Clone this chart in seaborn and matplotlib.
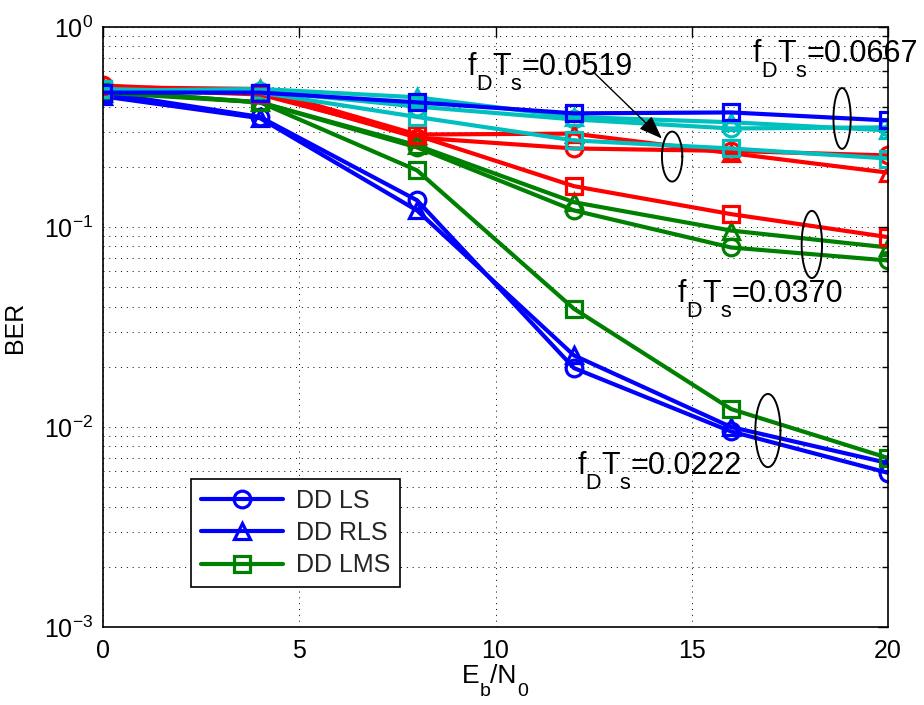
import numpy as np
import pandas as pd
import matplotlib
matplotlib.use("Agg")
import matplotlib.pyplot as plt
import seaborn as sns
from matplotlib.lines import Line2D

# ---------------- data ----------------
snr = [0, 4, 8, 12, 16, 20]

ls_0222 = [0.47, 0.355, 0.136, 0.0197, 0.0095, 0.0059]
rls_0222 = [0.45, 0.35, 0.121, 0.0228, 0.0100, 0.0066]
lms_0222 = [0.48, 0.42, 0.192, 0.039, 0.0123, 0.0070]

ls_0370 = [0.48, 0.42, 0.25, 0.121, 0.079, 0.068]
rls_0370 = [0.47, 0.42, 0.256, 0.133, 0.096, 0.079]
lms_0370 = [0.49, 0.46, 0.287, 0.16, 0.116, 0.089]

ls_0519 = [0.51, 0.47, 0.28, 0.247, 0.24, 0.228]
rls_0519 = [0.50, 0.49, 0.29, 0.293, 0.234, 0.187]
lms_0519 = [0.49, 0.47, 0.355, 0.271, 0.247, 0.22]

ls_0667 = [0.49, 0.48, 0.40, 0.345, 0.311, 0.315]
rls_0667 = [0.48, 0.49, 0.445, 0.355, 0.334, 0.304]
lms_0667 = [0.47, 0.47, 0.42, 0.37, 0.374, 0.341]

legend_labels = ["DD LS", "DD RLS", "DD LMS"]
doppler_labels = ["0.0222", "0.0370", "0.0519", "0.0667"]

# ---------------- style ----------------
sns.set_theme(style="white")
plt.rcParams["font.family"] = ["Liberation Sans", "DejaVu Sans"]
plt.rcParams["mathtext.fontset"] = "custom"
plt.rcParams["mathtext.rm"] = "Liberation Sans"
plt.rcParams["mathtext.it"] = "Liberation Sans"
plt.rcParams["mathtext.bf"] = "Liberation Sans:bold"

BLUE = (0, 0, 1)
GREEN = (0, 0.5, 0)
RED = (1, 0, 0)
CYAN = (0, 0.75, 0.75)

fig = plt.figure(figsize=(9.24, 7.05), dpi=100)
ax = fig.add_axes([103 / 924, 1 - 627 / 705, 785 / 924, 600 / 705])

series = [
    # LS
    (ls_0222, BLUE, "o"), (ls_0370, GREEN, "o"), (ls_0519, RED, "o"), (ls_0667, CYAN, "o"),
    # RLS
    (rls_0222, BLUE, "^"), (rls_0370, GREEN, "^"), (rls_0519, RED, "^"), (rls_0667, CYAN, "^"),
    # LMS
    (lms_0222, GREEN, "s"), (lms_0370, RED, "s"), (lms_0519, CYAN, "s"), (lms_0667, BLUE, "s"),
]

for vals, col, mk in series:
    df = pd.DataFrame({"snr": snr, "ber": vals})
    sns.lineplot(data=df, x="snr", y="ber", ax=ax, color=col, marker=mk,
                 markersize=12, markerfacecolor="none", markeredgecolor=col,
                 markeredgewidth=2.3, linewidth=3.0, legend=False)

ax.set_yscale("log")
ax.set_xlim(0, 20)
ax.set_ylim(1e-3, 1)
ax.set_xticks([0, 5, 10, 15, 20])

# grid (MATLAB dotted)
ax.grid(True, which="major", axis="both", color="black", linestyle=(0, (1, 5)), linewidth=0.7)
ax.grid(True, which="minor", axis="y", color="black", linestyle=(0, (1, 5)), linewidth=0.7)
ax.set_axisbelow(True)

for s in ax.spines.values():
    s.set_color("black")
    s.set_linewidth(1.2)
ax.tick_params(which="both", direction="in", top=True, right=True, colors="black",
               labelsize=18, width=1)
ax.tick_params(which="major", length=7)
ax.tick_params(which="minor", length=4)
ax.tick_params(axis="x", pad=9)
ax.tick_params(axis="y", pad=7)

ax.set_xlabel("")
ax.set_ylabel("BER", fontsize=18, color="black", labelpad=12)


def chain(x, y, pieces, coords):
    """Place text pieces one after another; dy in points for low subscripts."""
    first, fs0, dy0 = pieces[0]
    prev = ax.annotate(first, xy=(x, y), xycoords=coords, xytext=(0, dy0),
                       textcoords="offset points", fontsize=fs0, color="black",
                       va="baseline", ha="left", zorder=6, annotation_clip=False)
    for txt, fs, dy in pieces[1:]:
        prev = ax.annotate(txt, xy=(1, y), xycoords=(prev, coords),
                           xytext=(0, dy), textcoords="offset points",
                           fontsize=fs, color="black", va="baseline", ha="left",
                           zorder=6, annotation_clip=False)


# x label  E_b/N_0 (MATLAB-style low subscripts)
chain(462 / 924, 1 - 683 / 705,
      [("E", 19, 0), ("b", 14, -9), ("/N", 19, 0), ("0", 14, -9)], "figure fraction")

# ---------------- annotations ----------------
def ellipse(cx, cy, a, b):
    t = np.linspace(0, 2 * np.pi, 200)
    ax.plot(cx + a * np.cos(t), cy * 10 ** (b * np.sin(t)), color="black", lw=1.4, zorder=5)

ellipse(14.50, 0.225, 0.26, 0.125)
ellipse(18.83, 0.349, 0.22, 0.152)
ellipse(18.06, 0.0818, 0.26, 0.168)
ellipse(16.94, 0.0096, 0.32, 0.183)

TFS = 22
SFS = 15.5
SUB_DY = -10.5


def fdts(x, y, value):
    chain(x, y, [("f", TFS, 0), ("D", SFS, SUB_DY), ("T", TFS, 0), ("s", SFS, SUB_DY),
                 ("=" + value, TFS, 0)], "data")


fdts(9.30, 0.574, doppler_labels[2])
fdts(16.56, 0.667, doppler_labels[3])
fdts(14.65, 0.042, doppler_labels[1])
fdts(12.08, 0.0058, doppler_labels[0])

ax.annotate("", xy=(14.24, 0.277), xytext=(12.53, 0.586),
            arrowprops=dict(arrowstyle="-|>,head_length=1.2,head_width=0.45", color="black", lw=1.0,
                            shrinkA=0, shrinkB=0), zorder=6)

# ---------------- legend ----------------
handles = [
    Line2D([], [], color=BLUE, marker="o", markersize=12, markerfacecolor="none", markeredgewidth=2.3, lw=3),
    Line2D([], [], color=BLUE, marker="^", markersize=12, markerfacecolor="none", markeredgewidth=2.3, lw=3),
    Line2D([], [], color=GREEN, marker="s", markersize=12, markerfacecolor="none", markeredgewidth=2.3, lw=3),
]
leg = ax.legend(handles, legend_labels, loc="upper left", bbox_to_anchor=(0.112, 0.247),
                fontsize=18, frameon=True, fancybox=False, edgecolor="black",
                handlelength=3.3, handletextpad=0.5, borderpad=0.4, labelspacing=0.33,
                borderaxespad=0)
leg.get_frame().set_linewidth(1.2)
leg.get_frame().set_facecolor("white")
leg.get_frame().set_alpha(1)

fig.savefig("out.png", dpi=100, facecolor="white")
